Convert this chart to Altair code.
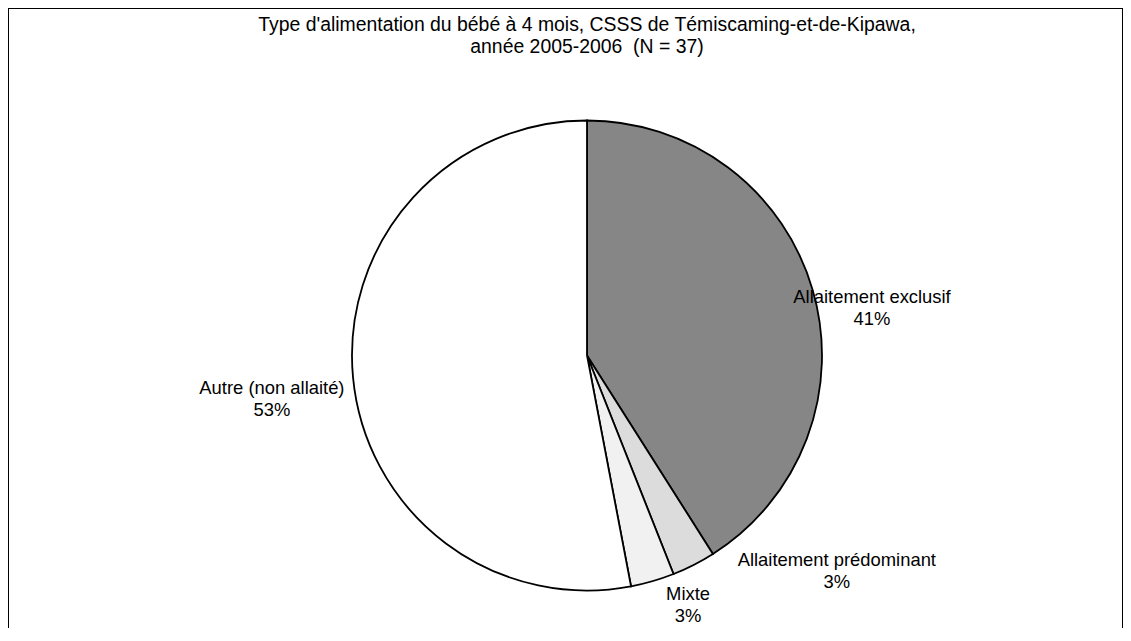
import altair as alt
import pandas as pd

categories = ["Allaitement exclusif", "Allaitement prédominant", "Mixte", "Autre (non allaité)"]
percents = [41, 3, 3, 53]
colors = ["#868686", "#dcdcdc", "#f1f1f1", "#ffffff"]
title_lines = ["Type d'alimentation du bébé à 4 mois, CSSS de Témiscaming-et-de-Kipawa,",
               "année 2005-2006\u00a0 (N = 37)"]

df = pd.DataFrame({
    "cat": categories,
    "pct": percents,
    "idx": list(range(len(categories))),
})
df["label"] = [f"{c}\n{p}%" for c, p in zip(categories, percents)]

FONT = "Liberation Sans"
CX, CY, R = 579, 347.5, 235
W, H = 1115, 620

base = alt.Chart(df)

pie = base.mark_arc(stroke="black", strokeWidth=1.8, radius=R).encode(
    theta=alt.Theta("pct:Q", stack=True),
    order=alt.Order("idx:Q"),
    color=alt.Color("cat:N", scale=alt.Scale(domain=categories, range=colors), legend=None),
    x=alt.value(CX),
    y=alt.value(CY),
)

# label placement tweaks (radius, dx, dy) per category
place = {
    "Allaitement exclusif": (289, 7.5, 22),
    "Allaitement prédominant": (330, 100, -89.5),
    "Mixte": (269, 26, -20),
    "Autre (non allaité)": (318, 1.5, 2.5),
}

lab_base = base.transform_joinaggregate(total="sum(pct)").transform_window(
    cum="sum(pct)", sort=[alt.SortField("idx")]
).transform_calculate(
    mid="(datum.cum - datum.pct/2) / datum.total * 2 * PI"
)

labels = []
for c in categories:
    r, dx, dy = place[c]
    labels.append(
        lab_base.transform_filter(alt.datum.cat == c).mark_text(
            font=FONT, fontSize=18.4, lineBreak="\n", lineHeight=22,
            radius=r, dx=dx, dy=dy, align="center", baseline="middle", color="black"
        ).encode(
            theta=alt.Theta("mid:Q", scale=None),
            text="label:N",
            x=alt.value(CX),
            y=alt.value(CY),
        )
    )

# outer frame (bottom edge runs past the visible area, as in the reference)
frame = alt.Chart(pd.DataFrame({"f": [0]})).mark_rect(
    fill=None, stroke="black", strokeWidth=2
).encode(
    x=alt.value(0), x2=alt.value(W), y=alt.value(0), y2=alt.value(H + 40)
)

chart = alt.layer(frame, pie, *labels).properties(
    width=W,
    height=H,
    title=alt.TitleParams(
        text=title_lines, anchor="middle", font=FONT, fontSize=19.4,
        fontWeight="normal", color="black", lineHeight=22, dy=54, dx=21.5,
    ),
    padding=0,
    autosize=alt.AutoSizeParams(type="none"),
).configure(
    background="white",
    view=alt.ViewConfig(stroke=None),
)

chart.save("out.html", embed_options={"renderer": "svg", "actions": False})
